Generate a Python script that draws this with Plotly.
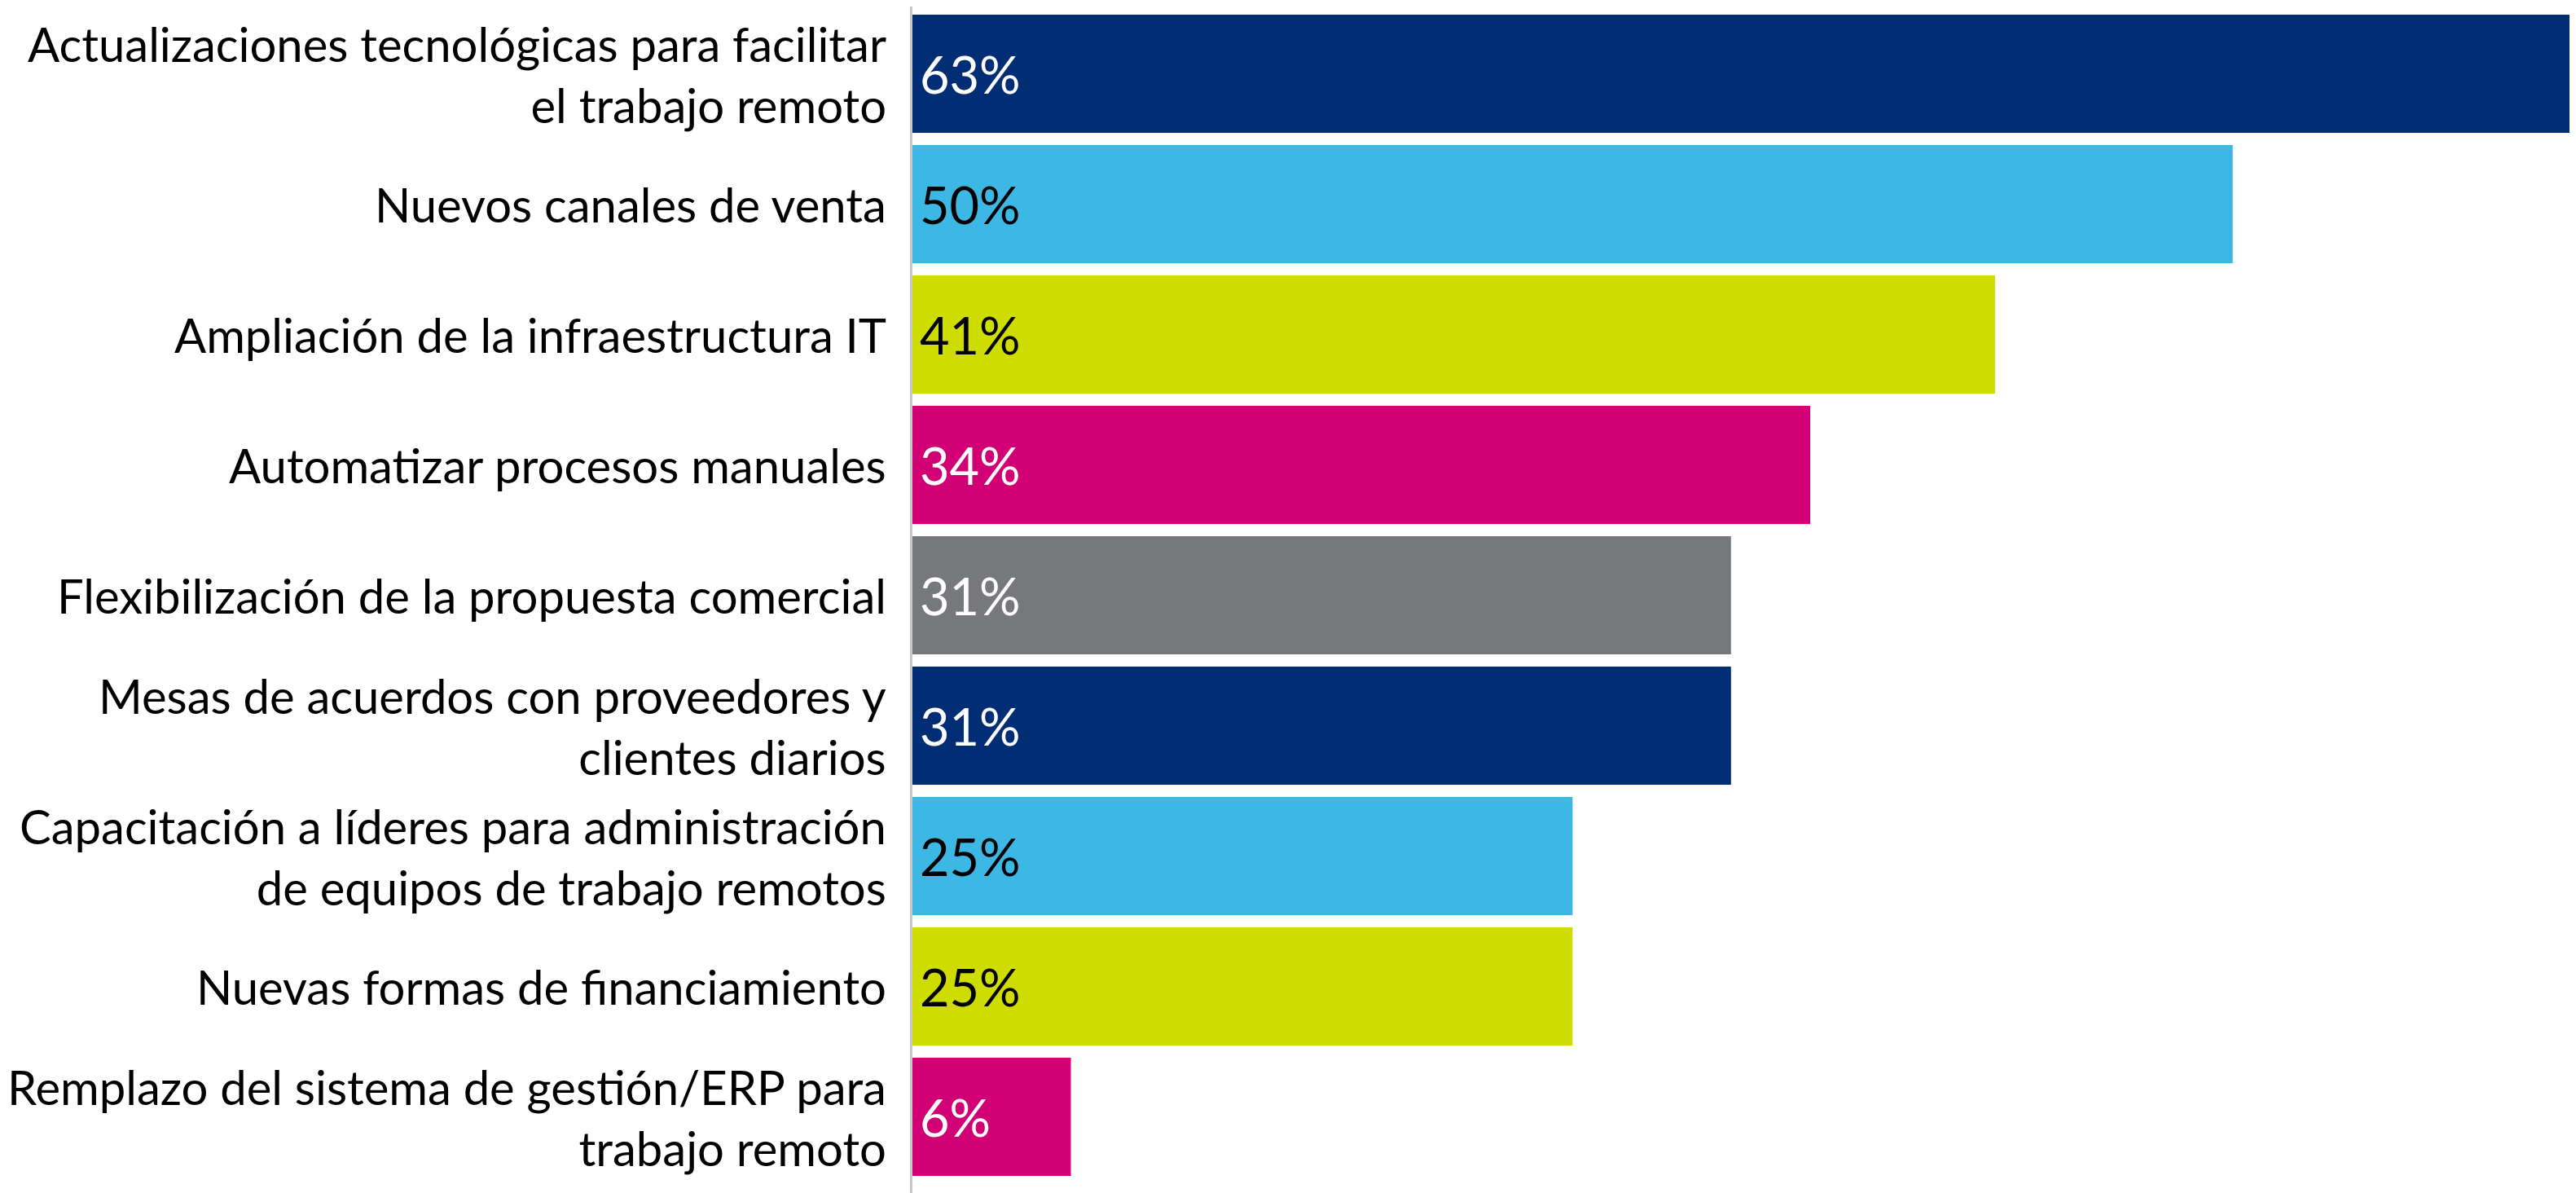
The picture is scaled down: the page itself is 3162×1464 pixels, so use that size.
import plotly.graph_objects as go

categories = [
    "Actualizaciones tecnológicas para facilitar<br>el trabajo remoto",
    "Nuevos canales de venta",
    "Ampliación de la infraestructura IT",
    "Automatizar procesos manuales",
    "Flexibilización de la propuesta comercial",
    "Mesas de acuerdos con proveedores y<br>clientes diarios",
    "Capacitación a líderes para administración<br>de equipos de trabajo remotos",
    "Nuevas formas de financiamiento",
    "Remplazo del sistema de gestión/ERP para<br>trabajo remoto",
]
values = [63, 50, 41, 34, 31, 31, 25, 25, 6]
bar_colors = ["#002D74", "#3DB7E4", "#CEDC00", "#D10074", "#77787B",
              "#002D74", "#3DB7E4", "#CEDC00", "#D10074"]
label_colors = ["#FFFFFF", "#000000", "#000000", "#FFFFFF", "#FFFFFF",
                "#FFFFFF", "#000000", "#000000", "#FFFFFF"]

FONT = "Lato"

fig = go.Figure()
fig.add_trace(go.Bar(
    x=values, y=categories, orientation="h",
    marker=dict(color=bar_colors, line=dict(width=0)),
    hoverinfo="skip",
))

for c, v, col in zip(categories, values, label_colors):
    fig.add_annotation(
        x=0, y=c, xref="x", yref="y", text=f"{v}%", showarrow=False,
        xanchor="left", yanchor="middle", xshift=7,
        font=dict(family=FONT, size=63, color=col),
    )
    fig.add_annotation(
        x=0, y=c, xref="x", yref="y", text=c, showarrow=False,
        xanchor="right", yanchor="middle", xshift=-30, align="right",
        font=dict(family=FONT, size=58, color="#000000"),
    )

# page body adds an 8px offset; figure is sized to fit the window
fig.update_layout(
    width=3154, height=1456,
    margin=dict(l=1112, r=0, t=0, b=0, autoexpand=False),
    paper_bgcolor="white", plot_bgcolor="white",
    bargap=0.094, showlegend=False,
    font=dict(family=FONT, size=58, color="#000000"),
)
fig.update_xaxes(range=[0, 63], visible=False, showgrid=False,
                 zeroline=False, automargin=False)
fig.update_yaxes(
    type="category", categoryorder="array", categoryarray=categories,
    range=[8.584, -0.5156], showgrid=False, zeroline=False,
    showline=True, linecolor="#C8C8C8", linewidth=3,
    ticks="", showticklabels=False, automargin=False,
)

fig.write_html("out.html")
